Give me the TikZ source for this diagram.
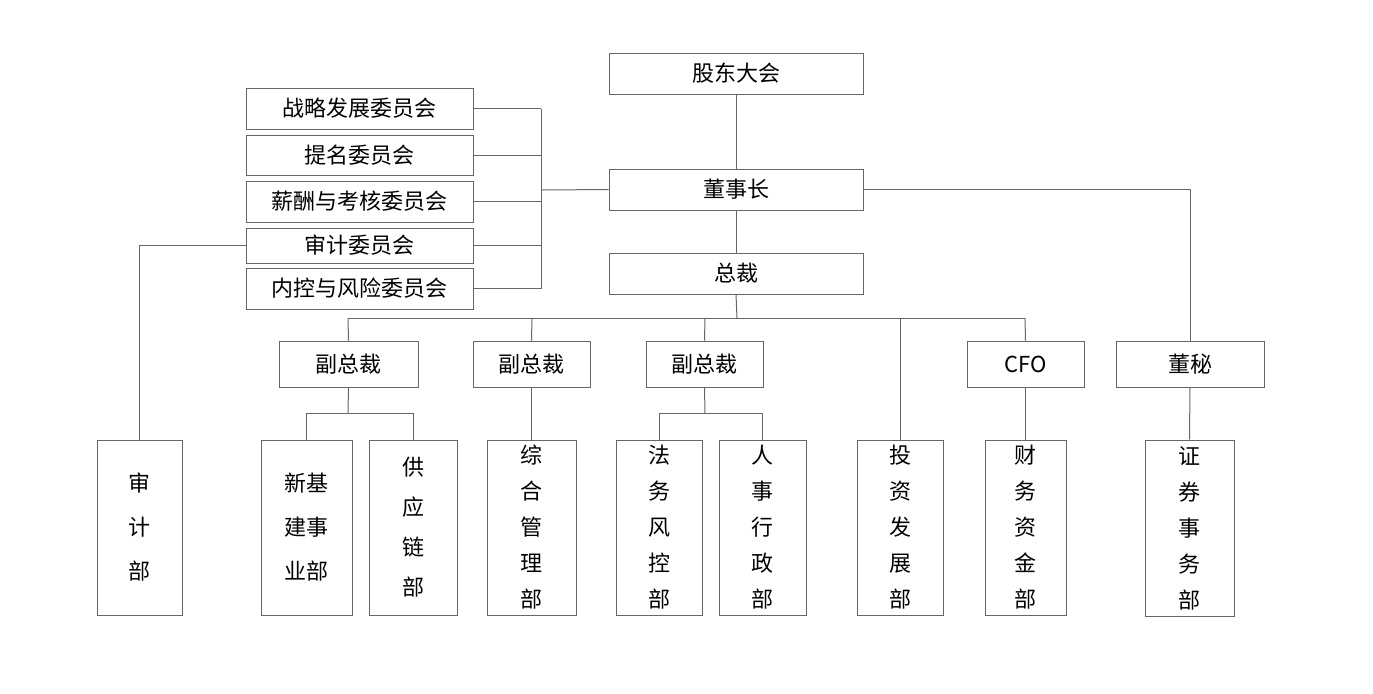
\documentclass[tikz,border=0pt]{standalone}
\usepackage{fontspec}
\newfontfamily\cjk{Noto Sans CJK SC}
\begin{document}
\begin{tikzpicture}[x=0.5pt,y=-0.5pt,
  bx/.style={draw=gray!80!black,line width=0.5pt,inner sep=0pt,font=\cjk\fontsize{11}{13}\selectfont},
  vt/.style={bx,align=center,font=\cjk\fontsize{11}{18}\selectfont},
  ln/.style={draw=gray!80!black,line width=0.5pt}]
\useasboundingbox (0,0) rectangle (1373,693);
\newcommand\bb[6]{\node[#1,minimum width={(#4-#2)*0.5pt},minimum height={(#5-#3)*0.5pt}] (#6) at ({(#2+#4)/2},{(#3+#5)/2})}
\bb{bx}{609}{53}{863}{94}{gd}{股东大会};
\bb{bx}{609}{169}{863}{210}{dsz}{董事长};
\bb{bx}{609}{253}{863}{294}{zc}{总裁};
\bb{bx}{246}{88}{473}{129}{c1}{战略发展委员会};
\bb{bx}{246}{135}{473}{175}{c2}{提名委员会};
\bb{bx}{246}{181}{473}{222}{c3}{薪酬与考核委员会};
\bb{bx}{246}{228}{473}{263}{c4}{审计委员会};
\bb{bx}{246}{268}{473}{309}{c5}{内控与风险委员会};
\bb{bx}{279}{341}{418}{387}{v1}{副总裁};
\bb{bx}{473}{341}{590}{387}{v2}{副总裁};
\bb{bx}{646}{341}{763}{387}{v3}{副总裁};
\bb{bx}{967}{341}{1084}{387}{cfo}{CFO};
\bb{bx}{1116}{341}{1264}{387}{dm}{董秘};
\bb{vt,font=\cjk\fontsize{11}{22}\selectfont}{97}{440}{182}{615}{sj}{审\\计\\部};
\bb{vt,font=\cjk\fontsize{11}{22}\selectfont}{261}{440}{352}{615}{b1}{新基\\建事\\业部};
\bb{vt,font=\cjk\fontsize{11}{20}\selectfont}{369}{440}{457}{615}{b2}{供\\应\\链\\部};
\bb{vt}{487}{440}{576}{615}{b3}{综\\合\\管\\理\\部};
\bb{vt}{616}{440}{702}{615}{b4}{法\\务\\风\\控\\部};
\bb{vt}{719}{440}{806}{615}{b5}{人\\事\\行\\政\\部};
\bb{vt}{857}{440}{943}{615}{b6}{投\\资\\发\\展\\部};
\bb{vt}{985}{440}{1066}{615}{b7}{财\\务\\资\\金\\部};
\bb{vt}{1145}{440}{1234}{616}{b8}{证\\券\\事\\务\\部};
\draw[ln] (gd.south) -- (dsz.north);
\draw[ln] (dsz.south) -- (zc.north);
\foreach \c in {c1,c2,c3,c4,c5} \draw[ln] (\c.east) -- (541,0|-\c.east);
\draw[ln] (541,109) -- (541,289);
\draw[ln] (541,190) -- (dsz.west);
\draw[ln] (c4.west) -| (sj.north);
\draw[ln] (dsz.east) -| (dm.north);
\draw[ln] (dm.south) -- (b8.north);
\draw[ln] (zc.south) -- (737,318);
\draw[ln] (348,318) -- (1025,318);
\draw[ln] (348,318) -- (v1.north);
\draw[ln] (532,318) -- (v2.north);
\draw[ln] (705,318) -- (v3.north);
\draw[ln] (900,318) -- (b6.north);
\draw[ln] (1025,318) -- (cfo.north);
\draw[ln] (cfo.south) -- (b7.north);
\draw[ln] (v2.south) -- (b3.north);
\draw[ln] (v1.south) -- (348,413);
\draw[ln] (b1.north) |- (348,413) -| (b2.north);
\draw[ln] (v3.south) -- (705,413);
\draw[ln] (b4.north) |- (705,413) -| (b5.north);
\end{tikzpicture}
\end{document}
